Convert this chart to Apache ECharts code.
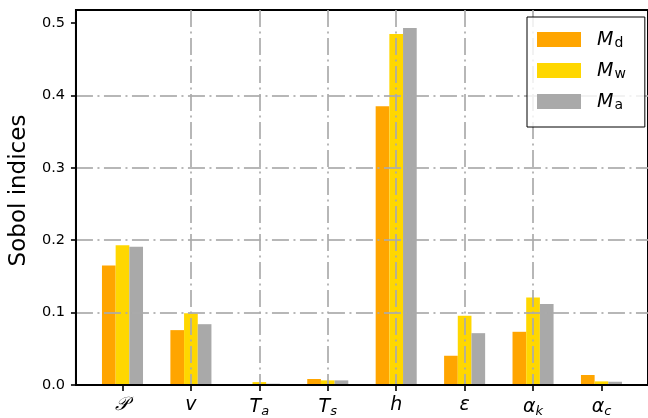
<!DOCTYPE html>
<html>
<head>
<meta charset="utf-8">
<script src="https://cdn.jsdelivr.net/npm/echarts@6/dist/echarts.min.js"></script>
<style>
  html, body { margin: 0; padding: 0; background: #fff; }
  #chart { width: 648px; height: 418px; }
</style>
</head>
<body>
<div id="chart"></div>
<script>
// Input parameters (x categories) and their rich-text labels
const categories = ['P', 'v', 'Ta', 'Ts', 'h', 'eps', 'ak', 'ac'];
const categoryLabels = [
  '{m|𝒫}', '{m|v}', '{m|T}{s|a}', '{m|T}{s|s}',
  '{m|h}', '{m|ε}', '{m|α}{s|k}', '{m|α}{s|c}'
];

// Sobol indices per model
const seriesNames = ['M_d', 'M_w', 'M_a'];
const legendLabels = ['{i|M}{s|d}', '{i|M}{s|w}', '{i|M}{s|a}'];
const valuesMd = [0.165, 0.0758, 0.0005, 0.0083, 0.385, 0.0404, 0.0735, 0.0138];
const valuesMw = [0.193, 0.099, 0.0040, 0.0064, 0.485, 0.0955, 0.121, 0.0050];
const valuesMa = [0.191, 0.084, 0.0018, 0.0064, 0.493, 0.0716, 0.112, 0.0045];
const seriesColors = ['#FFA500', '#FFD700', '#A9A9A9'];

// Axis ticks
const xTicks = [0, 1, 2, 3, 4, 5, 6, 7];
const yTicks = [0, 0.1, 0.2, 0.3, 0.4, 0.5];

const gridLine = {
  show: true,
  showMinLine: false,
  showMaxLine: false,
  lineStyle: { color: 'rgba(170,170,170,0.85)', width: 2, type: [17, 4.5, 2, 4.5] }
};

const allValues = [valuesMd, valuesMw, valuesMa];

const chart = echarts.init(document.getElementById('chart'), null, { renderer: 'canvas' });
chart.setOption({
  animation: false,
  backgroundColor: '#fff',
  textStyle: { fontFamily: 'DejaVu Sans' },
  grid: {
    left: 74, right: -1, top: 10, bottom: 32,
    show: true, borderColor: '#000', borderWidth: 2, backgroundColor: 'transparent'
  },
  legend: {
    orient: 'vertical',
    left: 527, top: 17,
    padding: [13, 19, 15, 10],
    itemWidth: 44, itemHeight: 15, itemGap: 11,
    icon: 'rect',
    borderColor: '#000', borderWidth: 1, borderRadius: 0,
    backgroundColor: 'rgba(255,255,255,0.82)',
    z: 10,
    data: seriesNames,
    formatter: function (name) { return legendLabels[seriesNames.indexOf(name)]; },
    textStyle: {
      padding: [0, 0, 0, 11],
      rich: {
        i: { fontFamily: 'DejaVu Sans', fontStyle: 'italic', fontSize: 19, color: '#000', lineHeight: 21, verticalAlign: 'bottom' },
        s: { fontFamily: 'DejaVu Sans', fontSize: 14, color: '#000', lineHeight: 21, padding: [6, 0, 0, 1], verticalAlign: 'bottom' }
      }
    }
  },
  xAxis: {
    type: 'value',
    min: -0.68, max: 7.68,
    splitNumber: 8,
    z: 5,
    axisLine: { show: true, onZero: false, lineStyle: { color: '#000', width: 2 } },
    axisTick: { show: true, customValues: xTicks, length: 6, lineStyle: { color: '#000', width: 1.6 } },
    axisLabel: {
      customValues: xTicks,
      margin: 11,
      formatter: function (v) { return categoryLabels[Math.round(v)]; },
      rich: {
        m: { fontFamily: 'DejaVu Sans', fontStyle: 'italic', fontSize: 19, color: '#000' },
        s: { fontFamily: 'DejaVu Sans', fontStyle: 'italic', fontSize: 13, color: '#000', padding: [9, 0, 0, 0] }
      }
    },
    splitLine: gridLine
  },
  yAxis: {
    type: 'value',
    min: 0, max: 0.518, interval: 0.1,
    z: 5,
    name: 'Sobol indices',
    nameLocation: 'middle',
    nameGap: 40,
    nameTextStyle: { fontFamily: 'DejaVu Sans', fontSize: 23, color: '#000', padding: [0, 0, 0, 14] },
    axisLine: { show: true, onZero: false, lineStyle: { color: '#000', width: 2 } },
    axisTick: { show: true, customValues: yTicks, length: 5, lineStyle: { color: '#000', width: 1.6 } },
    axisLabel: {
      customValues: yTicks,
      margin: 11,
      fontFamily: 'DejaVu Sans', fontSize: 14.5, color: '#000',
      formatter: function (v) { return v.toFixed(1); }
    },
    splitLine: gridLine
  },
  series: seriesNames.map(function (name, k) {
    return {
      name: name,
      type: 'bar',
      barWidth: '20%',
      barGap: '0%',
      itemStyle: { color: seriesColors[k] },
      data: allValues[k].map(function (v, i) { return [xTicks[i], v]; })
    };
  })
});
</script>
</body>
</html>
